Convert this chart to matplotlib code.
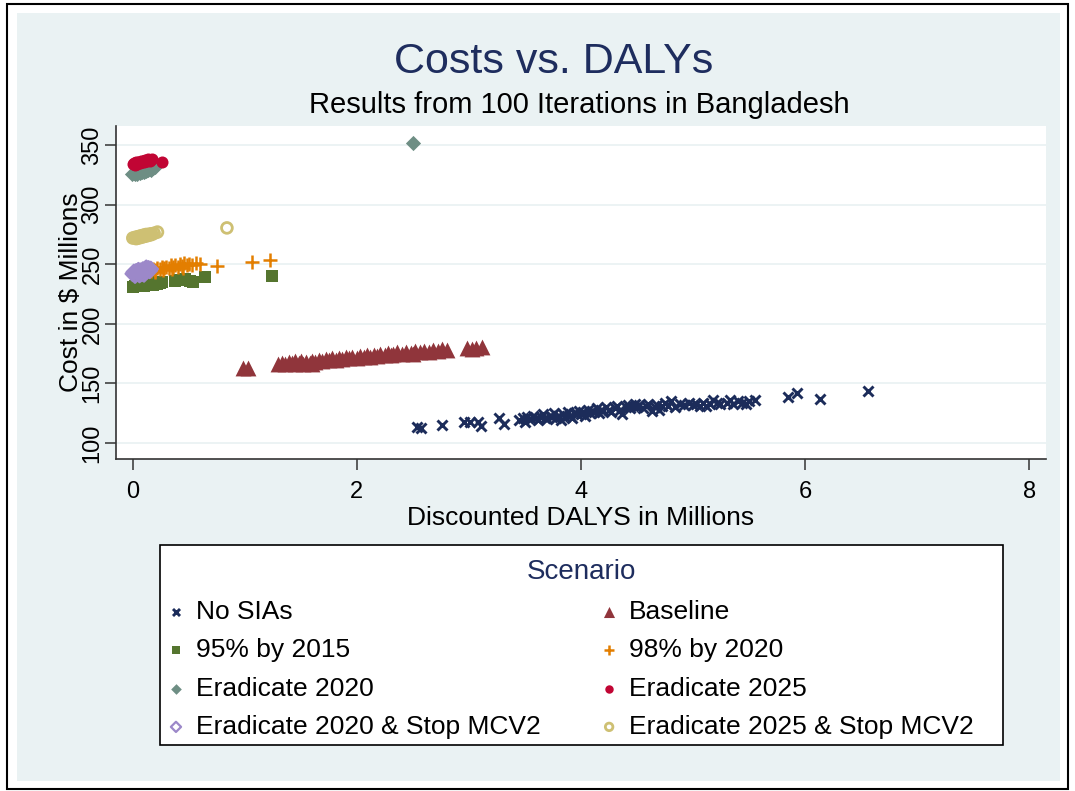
import matplotlib
matplotlib.use("Agg")
import matplotlib.pyplot as plt
from matplotlib.patches import Rectangle

plt.rcParams['font.family'] = ['Liberation Sans', 'DejaVu Sans']

# ---------------- data (millions of DALYs, millions $) ----------------
nosia_x = [2.54, 2.57, 2.76, 2.96, 3.01, 3.08, 3.11, 3.27, 3.31,
           3.45, 3.48, 3.50, 3.52, 3.55, 3.57, 3.60, 3.62, 3.64, 3.66, 3.68, 3.70, 3.72, 3.74,
           3.76, 3.78, 3.80, 3.82, 3.84, 3.86, 3.88, 3.90, 3.92, 3.94, 3.96, 3.98, 4.00, 4.02,
           4.04, 4.06, 4.08, 4.10, 4.12, 4.14, 4.16, 4.18, 4.20, 4.22, 4.25, 4.27, 4.30, 4.32,
           4.35, 4.37, 4.40, 4.42, 4.44, 4.46, 4.48, 4.50, 4.52, 4.55, 4.58, 4.60, 4.63, 4.66,
           4.68, 4.70, 4.72, 4.75, 4.78, 4.80, 4.84, 4.88, 4.92, 4.96, 5.00, 5.03, 5.06, 5.09,
           5.12, 5.15, 5.18, 5.21, 5.24, 5.30, 5.33, 5.36, 5.40, 5.44, 5.47, 5.50, 5.55,
           5.85, 5.93, 6.13, 6.56]
nosia_y = [113.5, 112.5, 115.0, 117.5, 117.5, 117.5, 114.5, 121.0, 116.0,
           119.0, 121.0, 118.0, 122.0, 120.0, 123.0, 121.0, 119.0, 122.0, 124.0, 121.0, 120.0, 123.0, 122.0,
           125.0, 121.0, 123.0, 119.5, 124.0, 122.0, 126.0, 123.0, 121.0, 125.0, 124.0, 127.0, 124.0, 126.0,
           123.0, 128.0, 125.0, 127.0, 126.0, 129.0, 125.0, 128.0, 127.0, 130.0, 128.0, 126.0, 129.0, 131.0,
           128.0, 124.0, 130.0, 132.0, 129.0, 131.0, 133.0, 130.0, 132.0, 129.0, 131.0, 133.0, 127.0, 130.0,
           132.0, 128.0, 131.0, 134.0, 131.0, 135.0, 130.0, 133.0, 132.0, 134.0, 132.0, 133.0, 131.0, 134.0,
           131.0, 133.0, 136.0, 134.0, 133.0, 134.0, 136.0, 133.0, 135.0, 134.0, 133.0, 135.0, 136.0,
           139.0, 142.0, 137.0, 143.5]

base_x = [0.98, 1.03, 1.30, 1.33, 1.36, 1.39, 1.42, 1.45, 1.48, 1.50, 1.52, 1.55, 1.58, 1.60,
          1.63, 1.66, 1.69, 1.72, 1.75, 1.78, 1.81, 1.84, 1.87, 1.90, 1.93, 1.96, 2.00, 2.03,
          2.06, 2.09, 2.12, 2.15, 2.18, 2.21, 2.25, 2.28, 2.32, 2.36, 2.40, 2.44, 2.48, 2.52,
          2.56, 2.60, 2.64, 2.68, 2.72, 2.76, 2.80, 2.98, 3.03, 3.06, 3.12, 2.50, 2.30, 1.45, 1.60]
base_y = [163.0, 163.0, 166.0, 167.0, 166.5, 168.0, 167.0, 168.5, 167.0, 169.0, 166.0, 168.0, 167.5, 169.0,
          168.0, 170.0, 169.0, 170.5, 169.5, 171.0, 170.0, 171.5, 170.5, 172.0, 171.0, 172.5, 171.5, 173.0,
          172.0, 173.5, 172.5, 174.0, 173.0, 174.5, 174.0, 175.5, 174.5, 176.0, 175.0, 176.5, 175.5, 177.0,
          176.0, 177.5, 176.5, 178.0, 177.0, 179.0, 178.0, 180.0, 179.0, 180.0, 180.5, 175.0, 173.5, 166.0, 166.5]

p95_x = [0.00, 0.02, 0.04, 0.06, 0.08, 0.10, 0.12, 0.14, 0.16, 0.18, 0.20, 0.22, 0.24, 0.26,
         0.03, 0.07, 0.11, 0.15, 0.19, 0.23, 0.38, 0.41, 0.44, 0.47, 0.51, 0.54, 0.64, 1.24]
p95_y = [231.0, 231.5, 232.0, 231.5, 232.5, 232.0, 233.0, 232.5, 233.5, 233.0, 234.0, 233.5, 234.5, 235.0,
         233.0, 233.5, 234.0, 234.0, 235.0, 235.5, 236.0, 237.0, 236.5, 237.5, 236.0, 235.5, 239.0, 240.5]

p98_x = [0.05, 0.08, 0.10, 0.12, 0.14, 0.16, 0.18, 0.20, 0.22, 0.24, 0.26, 0.28, 0.30, 0.32,
         0.34, 0.36, 0.38, 0.40, 0.42, 0.44, 0.46, 0.48, 0.50, 0.53, 0.56, 0.60, 0.20, 0.27,
         0.35, 0.45, 0.75, 1.06, 1.22]
p98_y = [242.0, 243.0, 244.0, 243.5, 245.0, 244.0, 246.0, 245.0, 247.0, 246.0, 247.5, 246.5, 248.0, 247.0,
         249.0, 247.5, 249.5, 248.0, 250.0, 248.5, 251.0, 249.0, 250.5, 249.5, 251.0, 250.0, 243.5, 245.0,
         246.0, 247.0, 248.5, 252.0, 253.5]

e20_x = [-0.01, 0.01, 0.02, 0.03, 0.04, 0.05, 0.06, 0.07, 0.08, 0.09, 0.10, 0.11, 0.12, 0.13,
         0.14, 0.15, 0.16, 0.18, 0.20, 0.05, 0.09, 2.50]
e20_y = [326.0, 326.5, 325.5, 327.0, 326.0, 327.5, 326.5, 328.0, 327.0, 328.5, 327.5, 329.0, 328.0, 329.5,
         329.0, 330.0, 329.5, 331.0, 332.0, 329.0, 330.0, 352.0]

e25_x = [0.00, 0.01, 0.02, 0.03, 0.04, 0.05, 0.06, 0.07, 0.08, 0.09, 0.10, 0.11, 0.12, 0.13,
         0.14, 0.15, 0.17, 0.26]
e25_y = [334.0, 335.0, 333.5, 335.5, 334.5, 336.0, 335.0, 336.5, 335.5, 337.0, 336.0, 337.5, 336.5, 337.0,
         338.0, 337.0, 338.0, 336.0]

e20s_x = [0.00, 0.01, 0.02, 0.03, 0.04, 0.05, 0.06, 0.07, 0.08, 0.09, 0.10, 0.11, 0.12, 0.13,
          0.14, 0.15, 0.16, 0.02, 0.06, 0.10, 0.12]
e20s_y = [242.0, 243.5, 241.5, 244.0, 242.5, 245.0, 243.0, 244.5, 242.0, 245.5, 243.5, 246.0, 244.0, 245.0,
          246.5, 244.5, 246.0, 240.5, 241.0, 241.5, 247.0]

e25s_x = [0.00, 0.02, 0.03, 0.04, 0.05, 0.06, 0.07, 0.08, 0.09, 0.10, 0.11, 0.12, 0.13, 0.14,
          0.15, 0.16, 0.17, 0.19, 0.22, 0.84]
e25s_y = [272.0, 272.5, 271.5, 273.0, 272.0, 273.5, 272.5, 274.0, 273.0, 274.5, 273.5, 275.0, 274.0, 275.0,
          274.5, 275.5, 275.0, 276.0, 277.0, 280.5]

labels = ["No SIAs", "Baseline", "95% by 2015", "98% by 2020", "Eradicate 2020",
          "Eradicate 2025", "Eradicate 2020 & Stop MCV2", "Eradicate 2025 & Stop MCV2"]
x_ticks = [0, 2, 4, 6, 8]
y_ticks = [100, 150, 200, 250, 300, 350]

# ---------------- styling ----------------
W, H = 1075, 791
fig = plt.figure(figsize=(W / 100, H / 100), dpi=100, facecolor="white")

def fx(px):
    return px / W

def fy(py):
    return 1 - py / H

bg = "#eaf2f3"
fig.patches.append(Rectangle((fx(7), fy(789)), fx(1068) - fx(7), fy(4) - fy(789),
                             transform=fig.transFigure, facecolor="white",
                             edgecolor="black", linewidth=1.5, zorder=-2))
fig.patches.append(Rectangle((fx(17), fy(781)), fx(1060) - fx(17), fy(13) - fy(781),
                             transform=fig.transFigure, facecolor=bg,
                             edgecolor="none", zorder=-1))
# legend frame
fig.patches.append(Rectangle((fx(160), fy(745)), fx(1003) - fx(160), fy(545) - fy(745),
                             transform=fig.transFigure, facecolor="white",
                             edgecolor="black", linewidth=1.2, zorder=1))

ax = fig.add_axes([fx(116), fy(459), fx(1046) - fx(116), fy(126) - fy(459)])
ax.set_zorder(2)
ax.set_facecolor("white")
ax.set_xlim(-0.15, 8.15)
ax.set_ylim(86.6, 366)
ax.set_xticks(x_ticks)
ax.set_yticks(y_ticks)
ax.grid(axis="y", color=bg, linewidth=1.3)
ax.set_axisbelow(True)
for s in ["top", "right"]:
    ax.spines[s].set_visible(False)
for s in ["left", "bottom"]:
    ax.spines[s].set_color("#333333")
    ax.spines[s].set_linewidth(1.2)
ax.tick_params(axis="both", direction="out", length=8, width=1.1, color="#333333",
               labelsize=17)
ax.tick_params(axis="x", pad=8)
ax.tick_params(axis="y", pad=1)
for lab in ax.get_yticklabels():
    lab.set_rotation(90)
    lab.set_va("center")

navy = "#1c2c5a"
maroon = "#90353b"
green = "#55752f"
orange = "#e37e00"
teal = "#6e8e84"
cranberry = "#c10534"
lavender = "#9c88c9"
khaki = "#cec073"

h1 = ax.scatter(nosia_x, nosia_y, marker="x", s=52, c=navy, linewidths=2.1, label=labels[0])
h2 = ax.scatter(base_x, base_y, marker="^", s=130, c=maroon, linewidths=0, label=labels[1])
h3 = ax.scatter(p95_x, p95_y, marker="s", s=65, c=green, linewidths=0, label=labels[2])
h4 = ax.scatter(p98_x, p98_y, marker="+", s=115, c=orange, linewidths=1.8, label=labels[3])
h5 = ax.scatter(e20_x, e20_y, marker="D", s=60, c=teal, linewidths=0, label=labels[4])
h6 = ax.scatter(e25_x, e25_y, marker="o", s=75, c=cranberry, linewidths=0, label=labels[5])
h7 = ax.scatter(e20s_x, e20s_y, marker="D", s=55, facecolors="none", edgecolors=lavender,
                linewidths=1.6, label=labels[6])
h8 = ax.scatter(e25s_x, e25s_y, marker="o", s=60, facecolors="none", edgecolors=khaki,
                linewidths=2.0, label=labels[7])

ax.set_xlabel("Discounted DALYS in Millions", fontsize=19, labelpad=2)
ax.set_ylabel(r"Cost in \$ Millions", fontsize=19, labelpad=-1)

fig.text(fx(554), fy(62), "Costs vs. DALYs", fontsize=31, color="#1e2d5e",
         ha="center", va="center")
fig.text(fx(579), fy(105), "Results from 100 Iterations in Bangladesh", fontsize=21,
         color="black", ha="center", va="center")

# legend
fig.text(fx(581), fy(572), "Scenario", fontsize=20, color="#1e2d5e",
         ha="center", va="center", zorder=3)
handles = [h1, h2, h3, h4, h5, h6, h7, h8]
order = [0, 2, 4, 6, 1, 3, 5, 7]
leg = fig.legend([handles[i] for i in order], [labels[i] for i in order], ncol=2,
                 loc="upper left", bbox_to_anchor=(fx(157.5), fy(589.5)),
                 bbox_transform=fig.transFigure, borderaxespad=0,
                 fontsize=19, frameon=False, borderpad=0.4, labelspacing=0.54,
                 handlelength=0.6, handletextpad=0.45, columnspacing=2.3,
                 markerscale=0.7, scatterpoints=1)
leg.set_zorder(3)

fig.savefig("out.png", dpi=100, facecolor=fig.get_facecolor())
